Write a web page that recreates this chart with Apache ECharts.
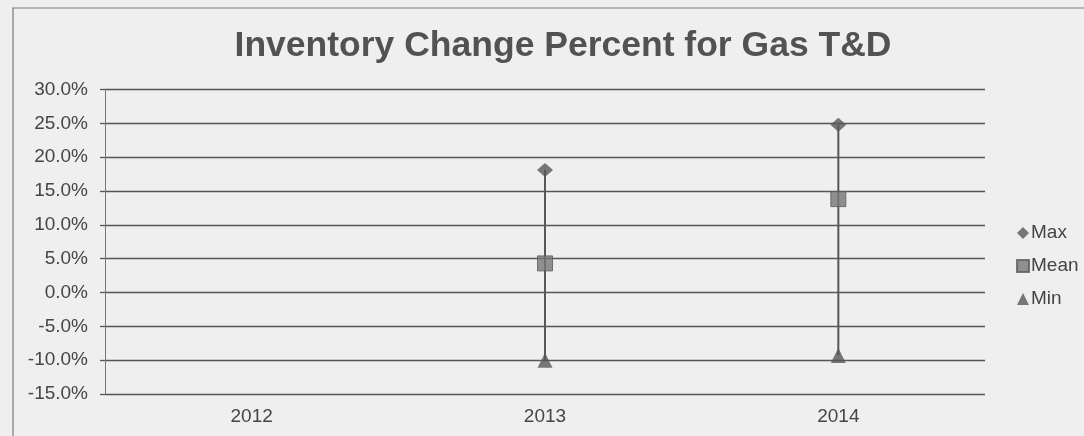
<!DOCTYPE html>
<html>
<head>
<meta charset="utf-8">
<script src="https://cdn.jsdelivr.net/npm/echarts@6/dist/echarts.min.js"></script>
<style>
html,body{margin:0;padding:0;background:#efefef;}
#c{width:1084px;height:436px;}
</style>
</head>
<body>
<div id="c"></div>
<script>
const categories = ['2012', '2013', '2014'];
const maxValues = [null, 18.1, 24.8];
const meanValues = [null, 4.3, 13.8];
const minValues = [null, -10.0, -9.3];
const yTicks = [-15, -10, -5, 0, 5, 10, 15, 20, 25, 30];

const chart = echarts.init(document.getElementById('c'));
const textColor = '#454545';
const markColor = '#575757';
const font = 'Liberation Sans';

const hiLo = categories.map((c, i) => [i, minValues[i], maxValues[i]]).filter(d => d[1] != null && d[2] != null);

chart.setOption({
  backgroundColor: '#efefef',
  animation: false,
  title: {
    text: 'Inventory Change Percent for Gas T&D',
    left: 558, top: 23, textAlign: 'center',
    textStyle: {fontFamily: font, fontSize: 35.5, fontWeight: 'bold', color: '#525252'}
  },
  legend: {
    orient: 'vertical', left: 1016, top: 223, padding: 0, itemGap: 13, itemWidth: 12, itemHeight: 12,
    textStyle: {fontFamily: font, fontSize: 19, lineHeight: 20, color: textColor, padding: [0,0,0,-3]},
    data: [{name:'Max', icon:'diamond'}, {name:'Mean', icon:'rect'}, {name:'Min', icon:'triangle'}]
  },
  grid: {left: 105, right: 99, top: 89.5, bottom: 42, containLabel: false},
  xAxis: {
    type: 'category', data: categories, boundaryGap: true,
    axisLine: {show: false}, axisTick: {show: false},
    axisLabel: {fontFamily: font, fontSize: 19, color: textColor, margin: 13}
  },
  yAxis: {
    type: 'value', min: yTicks[0], max: yTicks[yTicks.length-1], interval: 5,
    axisLine: {show: true, lineStyle: {color: '#777', width: 1}},
    axisTick: {show: true, length: 5, lineStyle: {color: '#555', width: 1.3}},
    splitLine: {lineStyle: {color: '#555', width: 1.3}},
    axisLabel: {fontFamily: font, fontSize: 19, color: textColor, margin: 17,
      formatter: v => v.toFixed(1) + '%'}
  },
  graphic: [{
    type: 'rect', shape: {x: 13, y: 8, width: 1090, height: 440},
    style: {fill: 'none', stroke: '#7a7a7a', lineWidth: 1.2}, silent: true
  }],
  series: [
    {
      type: 'custom', name: 'hilo', data: hiLo, silent: true, z: 2,
      renderItem: (params, api) => {
        const p1 = api.coord([api.value(0), api.value(1)]);
        const p2 = api.coord([api.value(0), api.value(2)]);
        return {type: 'line', shape: {x1: p1[0], y1: p1[1], x2: p2[0], y2: p2[1]},
          style: {stroke: markColor, lineWidth: 2}};
      }
    },
    {name: 'Max', type: 'scatter', data: maxValues, symbol: 'diamond', symbolSize: [16, 14], z: 3,
      itemStyle: {color: markColor}},
    {name: 'Mean', type: 'scatter', data: meanValues, symbol: 'rect', symbolSize: 15, z: 3,
      itemStyle: {color: '#777', borderColor: '#5a5a5a', borderWidth: 1}},
    {name: 'Min', type: 'scatter', data: minValues, symbol: 'triangle', symbolSize: 15, z: 3,
      itemStyle: {color: markColor}}
  ]
});
</script>
</body>
</html>
